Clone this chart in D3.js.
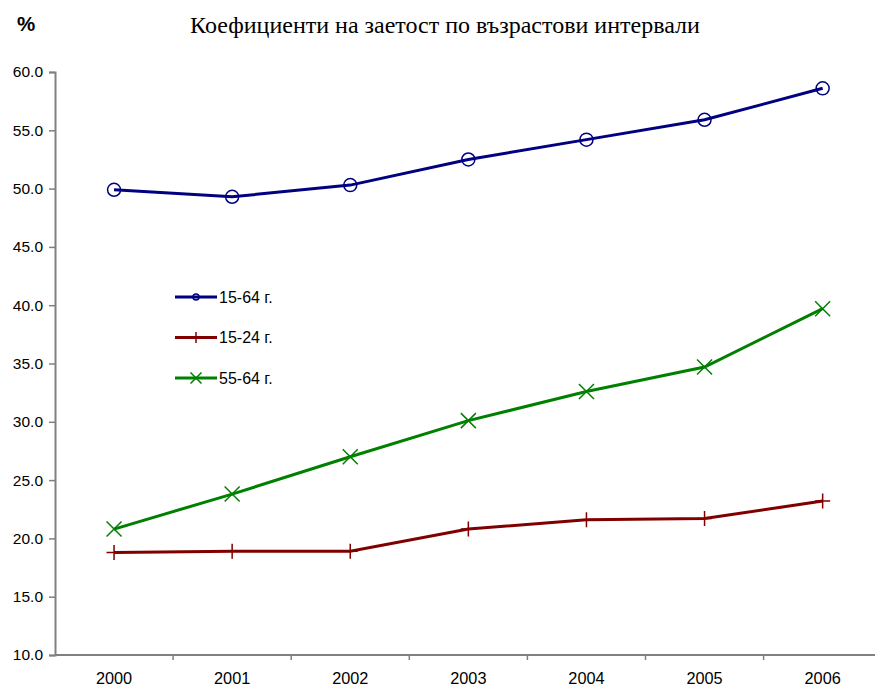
<!DOCTYPE html>
<html>
<head>
<meta charset="utf-8">
<script src="https://cdn.jsdelivr.net/npm/d3@7"></script>
<style>
  body { margin: 0; background: #fff; }
  svg { display: block; }
</style>
</head>
<body>
<div id="chart-area"></div>
<script>
const years = ['2000', '2001', '2002', '2003', '2004', '2005', '2006'];
const age1564 = [49.9, 49.3, 50.3, 52.5, 54.2, 55.9, 58.6];
const age1524 = [18.8, 18.9, 18.9, 20.8, 21.6, 21.7, 23.2];
const age5564 = [20.8, 23.8, 27.0, 30.1, 32.6, 34.7, 39.7];
const yTicks = [10, 15, 20, 25, 30, 35, 40, 45, 50, 55, 60];

const series = [
    {name: '15-64 г.', values: age1564, color: '#000080', marker: 'circle'},
    {name: '15-24 г.', values: age1524, color: '#800000', marker: 'plus'},
    {name: '55-64 г.', values: age5564, color: '#008000', marker: 'cross'}
];

const W = 875, H = 686;
const plotLeft = 55, plotTop = 72, plotBottom = 655;
const plotRight = plotLeft + 7 * 118.1;
const sans = '"Liberation Sans", Arial, sans-serif';

const svg = d3.select('#chart-area')
    .append('svg')
    .attr('width', W)
    .attr('height', H);

const x = d3.scaleBand()
    .domain(years)
    .range([plotLeft, plotRight]);

const y = d3.scaleLinear()
    .domain([10, 60])
    .range([plotBottom, plotTop]);

// title and unit
svg.append('text')
    .text('Коефициенти на заетост по възрастови интервали')
    .attr('x', 445)
    .attr('y', 33)
    .attr('text-anchor', 'middle')
    .attr('font-family', '"Liberation Serif", "Times New Roman", serif')
    .attr('font-size', '24px')
    .attr('fill', '#000');

svg.append('text')
    .text('%')
    .attr('x', 17)
    .attr('y', 31)
    .attr('font-family', sans)
    .attr('font-weight', 'bold')
    .attr('font-size', '20.5px');

// axes
const yAxis = svg.append('g')
    .attr('transform', 'translate(' + plotLeft + ',0)')
    .call(d3.axisLeft(y).tickValues(yTicks).tickFormat(d3.format('.1f')).tickSize(6).tickPadding(6));

const xAxis = svg.append('g')
    .attr('transform', 'translate(0,' + plotBottom + ')')
    .call(d3.axisBottom(x).tickSize(0).tickPadding(17));

xAxis.selectAll('.tick')
    .filter((d, i) => i > 0)
    .append('line')
    .attr('x1', -x.step() / 2)
    .attr('x2', -x.step() / 2)
    .attr('y2', 5);

[xAxis, yAxis].forEach(a => {
    a.select('.domain').attr('stroke', '#808080').attr('stroke-width', 2);
    a.selectAll('line').attr('stroke', '#808080').attr('stroke-width', 1.5);
    a.selectAll('text')
        .attr('font-family', sans)
        .attr('fill', '#000');
});
yAxis.selectAll('text').attr('font-size', '15.5px');
xAxis.selectAll('text').attr('font-size', '16.3px');
xAxis.select('.domain').attr('d', 'M' + plotLeft + ',0H' + W);

// markers
const drawMarker = (sel, type, color, s) => {
    if (type === 'circle') {
        sel.append('circle')
            .attr('r', s)
            .attr('fill', 'none')
            .attr('stroke', color)
            .attr('stroke-width', 1.5);
    } else if (type === 'plus') {
        sel.append('path')
            .attr('d', 'M' + (-s) + ',0H' + s + 'M0,' + (-s) + 'V' + s)
            .attr('stroke', color)
            .attr('stroke-width', 1.5);
    } else {
        sel.append('path')
            .attr('d', 'M' + (-s) + ',' + (-s) + 'L' + s + ',' + s + 'M' + (-s) + ',' + s + 'L' + s + ',' + (-s))
            .attr('stroke', color)
            .attr('stroke-width', 1.5);
    }
};

const line = d3.line()
    .x((d, i) => x(years[i]) + x.bandwidth() / 2)
    .y(d => y(d));

series.forEach(s => {
    svg.append('path')
        .datum(s.values)
        .attr('d', line)
        .attr('fill', 'none')
        .attr('stroke', s.color)
        .attr('stroke-width', 3);

    s.values.forEach((v, i) => {
        const m = svg.append('g')
            .attr('transform', 'translate(' + (x(years[i]) + x.bandwidth() / 2) + ',' + y(v) + ')');
        drawMarker(m, s.marker, s.color, s.marker === 'circle' ? 6.5 : 7.5);
    });
});

// legend
const legend = svg.append('g');
series.forEach((s, i) => {
    const row = legend.append('g')
        .attr('transform', 'translate(175,' + (297 + i * 40.5) + ')');
    row.append('line')
        .attr('x1', 0)
        .attr('x2', 42)
        .attr('stroke', s.color)
        .attr('stroke-width', 3);
    const m = row.append('g').attr('transform', 'translate(21,0)');
    drawMarker(m, s.marker, s.color, s.marker === 'circle' ? 3 : 5.5);
    row.append('text')
        .text(s.name)
        .attr('x', 44)
        .attr('y', 5.5)
        .attr('font-family', sans)
        .attr('font-size', '16px');
});
</script>
</body>
</html>
